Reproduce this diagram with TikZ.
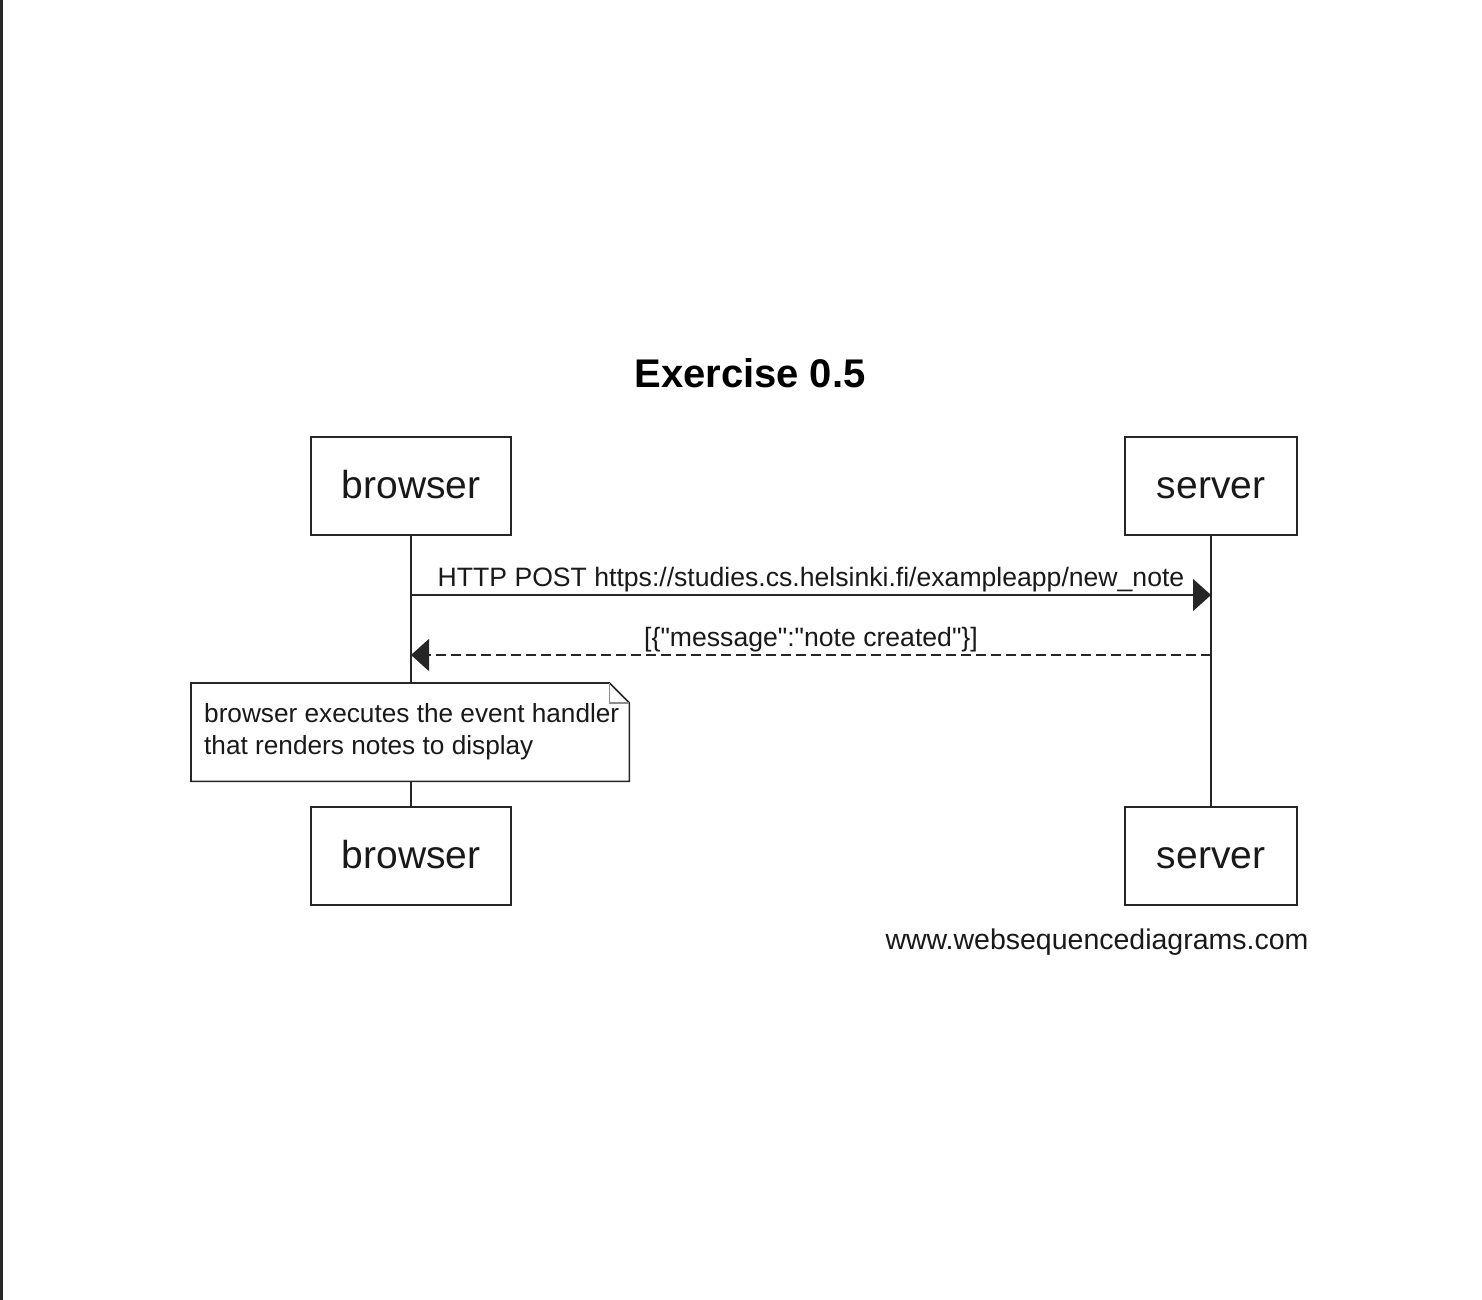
\documentclass[tikz,border=0pt]{standalone}
\usepackage{fontspec}
\setmainfont{Liberation Sans}[Ligatures=TeXOff]
\usetikzlibrary{arrows.meta}
\begin{document}
\begin{tikzpicture}[x=1pt,y=-1pt,
  actor/.style={draw=black!85, line width=1.6pt, fill=white, minimum height=98pt, inner sep=0pt,
    text height=30pt, text depth=6pt,
    font=\fontsize{39}{44}\selectfont, text=black!90},
  lifeline/.style={draw=black!85, line width=1.6pt},
  msg/.style={line width=1.6pt, draw=black!85, -{Triangle[length=18pt,width=32pt]}},
  reply/.style={msg, dash pattern=on 10pt off 5pt},
  msglabel/.style={font=\fontsize{26.6}{30}\selectfont, text=black!90, inner sep=2pt},
  notetext/.style={font=\fontsize{26.2}{32}\selectfont, text=black!90, align=left, inner sep=0pt},
  notebox/.style={draw=black!85, line width=1.6pt, fill=white},
  foldline/.style={draw=black!45, line width=1.4pt}]
\useasboundingbox (0,0) rectangle (1482,1300);
\fill[white] (0,0) rectangle (1482,1300);
\fill[black!85] (0,0) rectangle (2.5,1300);

% title
\node (title) [font=\fontsize{40}{46}\selectfont\bfseries, text=black] at (750,373) {Exercise 0.5};

% participants
\node (bt) [actor, minimum width=200pt] at (411,486) {browser};
\node (st) [actor, minimum width=172pt] at (1211,486) {server};
\node (bb) [actor, minimum width=200pt] at (411,856) {browser};
\node (sb) [actor, minimum width=172pt] at (1211,856) {server};

% lifelines
\draw[lifeline] (bt.south) -- (bb.north);
\draw[lifeline] (st.south) -- (sb.north);

% message anchor points
\coordinate (m1a) at (411,595);
\coordinate (m1b) at (1211,595);
\coordinate (m2a) at (1211,655);
\coordinate (m2b) at (411,655);

\draw[msg] (m1a) -- node[msglabel, above] {HTTP POST https://studies.cs.helsinki.fi/exampleapp/new\_note} (m1b);
\draw[reply] (m2a) -- node[msglabel, above] {[\{"message":"note created"\}]} (m2b);

% note
\node (note) [anchor=north west, minimum width=438pt, minimum height=98pt, inner sep=0pt] at (191,683) {};
\path[notebox] (note.north west) -- ([xshift=-20pt]note.north east) -- ([yshift=-20pt]note.north east)
  -- (note.south east) -- (note.south west) -- cycle;
\draw[foldline] ([xshift=-20pt]note.north east) -- ([xshift=-20pt,yshift=-20pt]note.north east) -- ([yshift=-20pt]note.north east);
\node (notetxt) [notetext, anchor=west] at ([xshift=13pt]note.west) {browser executes the event handler\\that renders notes to display};

% footer
\node (footer) [font=\fontsize{28.5}{32}\selectfont, text=black!90] at (1097,942) {www.websequencediagrams.com};
\end{tikzpicture}
\end{document}
